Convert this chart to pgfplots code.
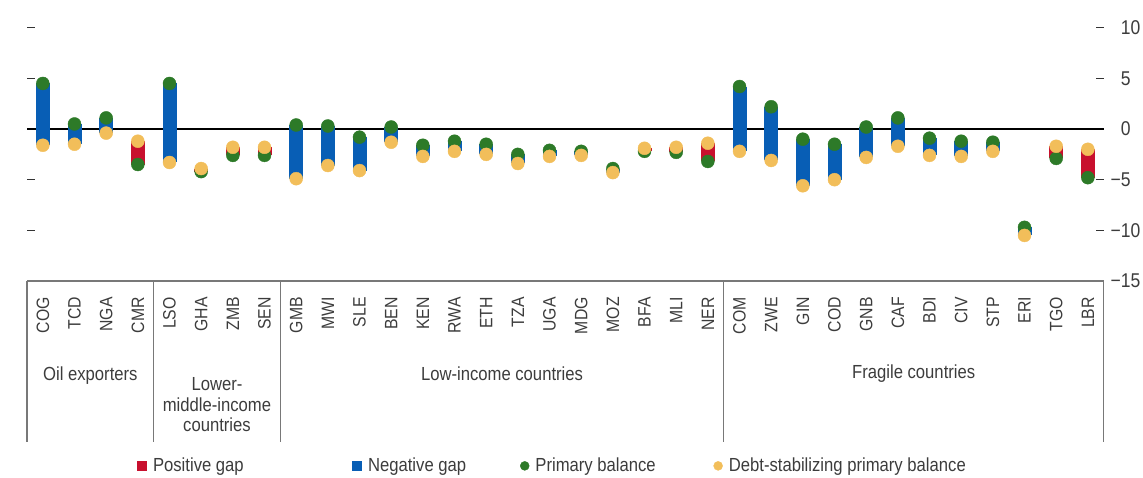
\documentclass[border=0pt]{standalone}
\usepackage{pgfplots}
\pgfplotsset{compat=1.18}
\usepackage{pgfplotstable}
\usepackage{fontspec}
\setmainfont{Liberation Sans}[FakeStretch=0.88]
\definecolor{gapred}{RGB}{200,16,46}
\definecolor{gapblue}{RGB}{8,94,181}
\definecolor{pbgreen}{RGB}{45,122,40}
\definecolor{dsorange}{RGB}{242,190,90}
\definecolor{textgray}{RGB}{60,60,60}
\definecolor{sepgray}{RGB}{120,120,120}

% x: category index, pb: primary balance, ds: debt-stabilizing primary balance
\pgfplotstableread{
x pb ds
0 4.5 -1.6
1 0.5 -1.5
2 1.1 -0.4
3 -3.5 -1.2
4 4.5 -3.3
5 -4.2 -3.9
6 -2.6 -1.8
7 -2.6 -1.8
8 0.4 -4.9
9 0.3 -3.6
10 -0.8 -4.1
11 0.2 -1.3
12 -1.6 -2.7
13 -1.2 -2.2
14 -1.5 -2.5
15 -2.5 -3.4
16 -2.1 -2.7
17 -2.2 -2.6
18 -3.9 -4.3
19 -2.2 -1.9
20 -2.3 -1.8
21 -3.2 -1.4
22 4.2 -2.2
23 2.2 -3.1
24 -1.0 -5.6
25 -1.5 -5.0
26 0.2 -2.8
27 1.1 -1.7
28 -0.9 -2.6
29 -1.2 -2.7
30 -1.3 -2.2
31 -9.7 -10.5
32 -2.9 -1.7
33 -4.8 -2.0
}\gapdata

\begin{document}
\begin{tikzpicture}
\begin{axis}[
  at={(27bp,197bp)}, anchor=south west,
  x=31.667bp, y=10.13bp,
  xmin=-0.5, xmax=33.5, ymin=-15, ymax=10,
  clip=false,
  separate axis lines,
  axis line style={draw=none},
  tick align=inside,
  major tick length=8bp,
  ytick={-15,-10,-5,0,5,10},
  yticklabels={\llap{−}15,\llap{−}10,\llap{−}5,0,5,10},
  ytick pos=both, yticklabel pos=right,
  ytick style={black!80, line width=1.2bp},
  yticklabel style={font=\fontsize{20}{20}\selectfont, text=textgray, anchor=west, inner sep=0pt},
  yticklabel shift=17bp,
  extra y ticks={0}, extra y tick labels={},
  extra y tick style={major tick length=0pt, grid=major, major grid style={black, line width=1.2bp}},
  xtick={0,...,33},
  xticklabels={COG,TCD,NGA,CMR,LSO,GHA,ZMB,SEN,GMB,MWI,SLE,BEN,KEN,RWA,ETH,TZA,UGA,MDG,MOZ,BFA,MLI,NER,COM,ZWE,GIN,COD,GNB,CAF,BDI,CIV,STP,ERI,TGO,LBR},
  xtick style={draw=none},
  xticklabel style={rotate=90, anchor=east, inner sep=0pt, font=\fontsize{18}{18}\selectfont, text=textgray},
  xticklabel shift=16bp,
  legend columns=4,
  legend cell align=left,
  legend style={at={(0.1022,-0.730)}, anchor=west, draw=none, fill=none,
    inner sep=0pt, outer sep=0pt, font=\fontsize{19}{19}\selectfont, text=textgray,
    /tikz/every odd column/.append style={column sep=6bp},
    /tikz/every even column/.append style={column sep=0pt},
    nodes={inner sep=0pt}},
]
% positive gap (debt-stabilizing above primary balance)
\addplot[draw=none, mark=none,
  legend image code/.code={\fill[gapred] (0bp,-5bp) rectangle (10bp,5bp);},
  error bars/.cd, y dir=both, y explicit, error mark=none,
  error bar style={line width=14bp, draw=gapred}]
  table[x=x, y expr={(\thisrow{pb}+\thisrow{ds})/2}, y error expr={max(\thisrow{ds}-\thisrow{pb},0)/2}] {\gapdata};
\addlegendentry{\makebox[199bp][l]{Positive gap}}
% negative gap
\addplot[draw=none, mark=none,
  legend image code/.code={\fill[gapblue] (0bp,-5bp) rectangle (10bp,5bp);},
  error bars/.cd, y dir=both, y explicit, error mark=none,
  error bar style={line width=14bp, draw=gapblue}]
  table[x=x, y expr={(\thisrow{pb}+\thisrow{ds})/2}, y error expr={max(\thisrow{pb}-\thisrow{ds},0)/2}] {\gapdata};
\addlegendentry{\makebox[152bp][l]{Negative gap}}
% primary balance
\addplot[only marks, color=pbgreen, mark=*, mark size=6.5bp,
  mark options={draw=none, fill=pbgreen},
  legend image code/.code={\fill[pbgreen] (5bp,0bp) circle (4.5bp);}]
  table[x=x, y=pb] {\gapdata};
\addlegendentry{\makebox[178bp][l]{Primary balance}}
% debt-stabilizing primary balance
\addplot[only marks, color=dsorange, mark=*, mark size=6.5bp,
  mark options={draw=none, fill=dsorange},
  legend image code/.code={\fill[dsorange] (5bp,0bp) circle (4.5bp);}]
  table[x=x, y=ds] {\gapdata};
\addlegendentry{Debt-stabilizing primary balance}

% category table frame
\draw[sepgray, line width=1.5bp] (axis cs:-0.5,-15) -- (axis cs:33.5,-15);
\draw[sepgray, line width=1.5bp] (axis cs:-0.5,-15) -- (axis cs:-0.5,-30.9);
\draw[sepgray, line width=1.5bp] (axis cs:3.5,-15) -- (axis cs:3.5,-30.9);
\draw[sepgray, line width=1.5bp] (axis cs:7.5,-15) -- (axis cs:7.5,-30.9);
\draw[sepgray, line width=1.5bp] (axis cs:21.5,-15) -- (axis cs:21.5,-30.9);
\draw[sepgray, line width=1.5bp] (axis cs:33.5,-15) -- (axis cs:33.5,-30.9);
\node[font=\fontsize{19}{21}\selectfont, text=textgray, align=center] at (axis cs:1.5,-24.3) {Oil exporters};
\node[font=\fontsize{19}{21}\selectfont, text=textgray, align=center] at (axis cs:5.5,-27.2) {Lower-\\middle-income\\countries};
\node[font=\fontsize{19}{21}\selectfont, text=textgray, align=center] at (axis cs:14.5,-24.2) {Low-income countries};
\node[font=\fontsize{19}{21}\selectfont, text=textgray, align=center] at (axis cs:27.5,-24.1) {Fragile countries};
\end{axis}
\pgfresetboundingbox
\path[use as bounding box] (0,0) rectangle (1143bp,478bp);
\end{tikzpicture}
\end{document}
